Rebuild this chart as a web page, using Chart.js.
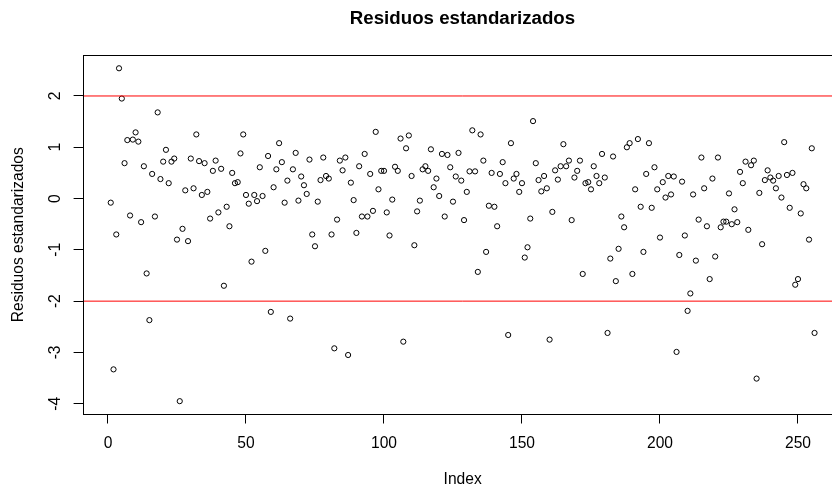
<!DOCTYPE html>
<html>
<head>
<meta charset="utf-8">
<title>Residuos estandarizados</title>
<script src="https://cdn.jsdelivr.net/npm/chart.js@4"></script>
<style>
  html, body {
    margin: 0;
    padding: 0;
    overflow: hidden;
    background: #ffffff;
  }
  #grafico {
    display: block;
  }
</style>
</head>
<body>
<canvas id="grafico" width="925" height="491"></canvas>
<script>
// residuos estandarizados, en orden de observacion (Index 1..256)
const residuos = [
  -0.08, -3.33, -0.70, 2.54, 1.95, 0.69, 1.14, -0.33, 1.15, 1.29,
  1.11, -0.46, 0.63, -1.46, -2.37, 0.48, -0.35, 1.68, 0.38, 0.72,
  0.95, 0.30, 0.72, 0.78, -0.80, -3.95, -0.59, 0.16, -0.83, 0.78,
  0.20, 1.25, 0.73, 0.07, 0.69, 0.13, -0.39, 0.54, 0.74, -0.27,
  0.58, -1.70, -0.16, -0.54, 0.50, 0.30, 0.32, 0.88, 1.25, 0.07,
  -0.10, -1.23, 0.07, -0.05, 0.61, 0.05, -1.02, 0.83, -2.21, 0.22,
  0.57, 1.08, 0.71, -0.08, 0.35, -2.34, 0.57, 0.89, -0.04, 0.43,
  0.26, 0.09, 0.76, -0.70, -0.93, -0.06, 0.36, 0.80, 0.44, 0.39,
  -0.70, -2.92, -0.41, 0.74, 0.55, 0.80, -3.05, 0.31, -0.03, -0.67,
  0.63, -0.35, 0.87, -0.35, 0.48, -0.24, 1.30, 0.18, 0.54, 0.54,
  -0.27, -0.72, -0.02, 0.62, 0.54, 1.17, -2.79, 0.98, 1.23, 0.44,
  -0.91, -0.25, -0.04, 0.57, 0.63, 0.54, 0.96, 0.22, 0.39, 0.05,
  0.87, -0.35, 0.85, 0.61, -0.06, 0.43, 0.89, 0.35, -0.42, 0.13,
  0.53, 1.33, 0.53, -1.43, 1.25, 0.74, -1.04, -0.14, 0.50, -0.16,
  -0.54, 0.48, 0.71, 0.30, -2.66, 1.08, 0.39, 0.48, 0.13, 0.30,
  -1.15, -0.95, -0.39, 1.51, 0.69, 0.36, 0.14, 0.44, 0.20, -2.75,
  -0.26, 0.55, 0.37, 0.63, 1.06, 0.63, 0.74, -0.42, 0.41, 0.54,
  0.74, -1.47, 0.30, 0.32, 0.18, 0.63, 0.44, 0.30, 0.87, 0.41,
  -2.62, -1.17, 0.82, -1.61, -0.98, -0.35, -0.56, 1.00, 1.08, -1.47,
  0.18, 1.16, -0.16, -1.04, 0.48, 1.08, -0.18, 0.61, 0.18, -0.76,
  0.32, 0.02, 0.44, 0.08, 0.43, -2.99, -1.10, 0.33, -0.72, -2.19,
  -1.85, 0.08, -1.21, -0.41, 0.80, 0.20, -0.54, -1.57, 0.39, -1.13,
  0.80, -0.56, -0.45, -0.45, 0.10, -0.50, -0.21, -0.46, 0.52, 0.30,
  0.72, -0.61, 0.65, 0.74, -3.51, 0.11, -0.89, 0.36, 0.55, 0.41,
  0.35, 0.20, 0.44, 0.02, 1.10, 0.46, -0.18, 0.50, -1.68, -1.57,
  -0.29, 0.28, 0.20, -0.80, 0.98, -2.62
];

// lineas de referencia (abline en rojo)
const limites = [2, -2];

// marcas de los ejes
const ticksX = [0, 50, 100, 150, 200, 250];
const ticksY = [-4, -3, -2, -1, 0, 1, 2];

// rango de los ejes (como en R, 4% de margen)
const xMin = -9.2;
const xMax = 266.2;
const yMin = -4.21;
const yMax = 2.80;

const fuente = "'Liberation Sans', Arial, sans-serif";

const puntos = [];
for (let i = 0; i < residuos.length; i++) {
  puntos.push({ x: i + 1, y: residuos[i] });
}

const datasets = [
  {
    type: "scatter",
    label: "residuos",
    data: puntos,
    pointStyle: "circle",
    pointRadius: 2.6,
    pointBorderWidth: 1,
    borderColor: "#000000",
    backgroundColor: "rgba(0,0,0,0)",
    order: 2,
  },
];

for (const valor of limites) {
  datasets.push({
    type: "line",
    label: "limite " + valor,
    data: [
      { x: xMin, y: valor },
      { x: xMax, y: valor },
    ],
    borderColor: "#ff0000",
    borderWidth: 1,
    pointRadius: 0,
    fill: false,
    order: 1,
  });
}

// caja alrededor del area de dibujo
const caja = {
  id: "caja",
  afterDraw(chart) {
    const a = chart.chartArea;
    const ctx = chart.ctx;
    ctx.save();
    ctx.strokeStyle = "#000000";
    ctx.lineWidth = 1;
    const l = Math.round(a.left) + 0.5;
    const t = Math.round(a.top) + 0.5;
    const r = Math.round(a.right) + 0.5;
    const b = Math.round(a.bottom) - 0.5;
    ctx.strokeRect(l, t, r - l, b - t);
    ctx.restore();
  },
};

const config = {
  data: { datasets: datasets },
  options: {
    responsive: false,
    animation: false,
    devicePixelRatio: 1,
    layout: { padding: 0 },
    plugins: {
      legend: { display: false },
      tooltip: { enabled: false },
      title: {
        display: true,
        text: "Residuos estandarizados",
        color: "#000000",
        font: { family: fuente, size: 18.7, weight: "bold" },
        padding: { top: 7.3, bottom: 25.2 },
      },
    },
    scales: {
      x: {
        type: "linear",
        position: "bottom",
        min: xMin,
        max: xMax,
        afterBuildTicks: (s) => {
          s.ticks = ticksX.map((v) => ({ value: v }));
        },
        afterFit: (s) => {
          s.height = 76.5;
        },
        border: { display: false },
        grid: {
          drawOnChartArea: false,
          drawTicks: true,
          tickLength: 9,
          color: "#000000",
          lineWidth: 1,
        },
        ticks: {
          color: "#000000",
          font: { family: fuente, size: 15.6 },
          padding: 10.5,
          maxRotation: 0,
          autoSkip: false,
        },
        title: {
          display: true,
          text: "Index",
          color: "#000000",
          font: { family: fuente, size: 15.6 },
          padding: { top: 0, bottom: 1.6 },
        },
      },
      y: {
        type: "linear",
        position: "left",
        min: yMin,
        max: yMax,
        afterBuildTicks: (s) => {
          s.ticks = ticksY.map((v) => ({ value: v }));
        },
        afterFit: (s) => {
          s.width = 82.6;
        },
        border: { display: false },
        grid: {
          drawOnChartArea: false,
          drawTicks: true,
          tickLength: 9,
          color: "#000000",
          lineWidth: 1,
        },
        ticks: {
          color: "#000000",
          font: { family: fuente, size: 15.6 },
          padding: 11.2,
          minRotation: 90,
          maxRotation: 90,
          crossAlign: "center",
          autoSkip: false,
        },
        title: {
          display: true,
          text: "Residuos estandarizados",
          color: "#000000",
          font: { family: fuente, size: 15.6 },
          padding: { top: 9.6, bottom: 0 },
        },
      },
      // eje fantasma a la derecha, solo para reservar el margen de R
      derecha: {
        type: "linear",
        position: "right",
        min: yMin,
        max: yMax,
        afterFit: (s) => {
          s.width = 82.3;
        },
        border: { display: false },
        grid: { display: false },
        ticks: { display: false },
      },
    },
  },
  plugins: [caja],
};

new Chart(document.getElementById("grafico"), config);
</script>
</body>
</html>
